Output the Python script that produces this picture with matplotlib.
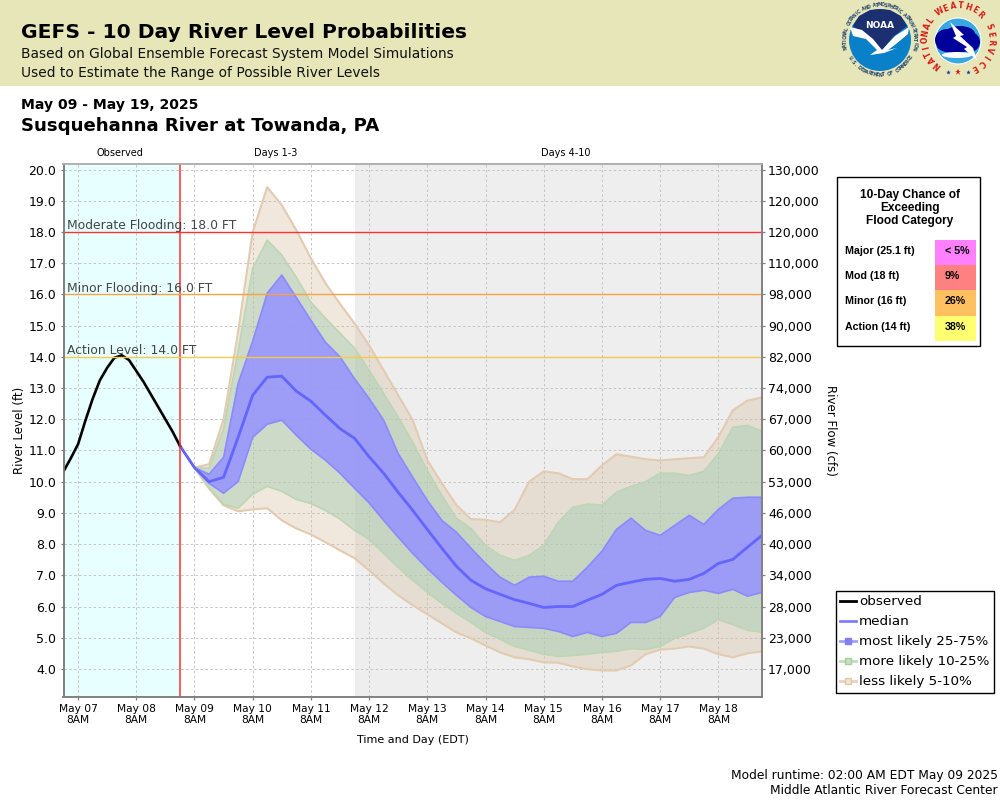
import numpy as np
import pandas as pd
import matplotlib
matplotlib.use("Agg")
import matplotlib.pyplot as plt
from matplotlib.lines import Line2D
from matplotlib.patches import Circle, Polygon, Rectangle, Ellipse

plt.rcParams['font.family'] = ['DejaVu Sans']

# Observed stage, every 3 hours up to the forecast start
obs_times = pd.date_range("2025-05-07 02:00", "2025-05-09 02:00", freq="3h")
observed = [10.33, 10.75, 11.2, 11.95, 12.65, 13.25, 13.65, 13.97, 14.05, 13.9, 13.55,
            13.2, 12.8, 12.4, 12.0, 11.6, 11.15]

# Forecast percentiles, every 6 hours
fc_times = pd.date_range("2025-05-09 02:00", "2025-05-19 02:00", freq="6h")
p95 = [11.15, 10.45, 10.56, 12.0, 14.8, 18.0, 19.44, 18.86, 18.06, 17.16, 16.36, 15.7, 15.07,
       14.37, 13.57, 12.77, 11.97, 10.69, 9.95, 9.25, 8.8, 8.78, 8.7, 9.1, 10.0, 10.33, 10.27,
       10.08, 10.08, 10.52, 10.88, 10.8, 10.72, 10.68, 10.72, 10.75, 10.78, 11.43, 12.29, 12.6, 12.7]
p90 = [11.15, 10.45, 10.43, 11.7, 14.2, 16.84, 17.74, 17.26, 16.55, 15.75, 15.24, 14.76, 14.28,
       13.57, 12.83, 12.07, 11.27, 10.36, 9.56, 8.83, 8.5, 7.96, 7.64, 7.48, 7.64, 7.96, 8.7,
       9.18, 9.28, 9.25, 9.66, 9.85, 10.0, 10.27, 10.27, 10.2, 10.33, 10.9, 11.75, 11.8, 11.62]
p75 = [11.15, 10.45, 10.24, 10.78, 13.15, 14.5, 16.04, 16.62, 15.9, 15.17, 14.47, 14.0, 13.3,
       12.67, 11.97, 10.9, 10.14, 9.4, 8.76, 8.38, 7.87, 7.38, 6.94, 6.68, 6.94, 6.97, 6.81,
       6.81, 7.26, 7.77, 8.47, 8.83, 8.44, 8.28, 8.6, 8.92, 8.63, 9.11, 9.47, 9.5, 9.5]
median = [11.15, 10.45, 10.0, 10.14, 11.42, 12.77, 13.35, 13.38, 12.9, 12.58, 12.13, 11.7, 11.39,
          10.8, 10.27, 9.66, 9.08, 8.47, 7.87, 7.29, 6.84, 6.57, 6.39, 6.22, 6.1, 5.97, 6.0,
          6.0, 6.2, 6.39, 6.68, 6.78, 6.87, 6.9, 6.81, 6.87, 7.06, 7.38, 7.51, 7.9, 8.28]
p25 = [11.15, 10.45, 9.95, 9.63, 10.0, 11.42, 11.84, 11.97, 11.49, 11.04, 10.69, 10.27, 9.79,
       9.32, 8.76, 8.22, 7.7, 7.22, 6.78, 6.36, 5.97, 5.68, 5.52, 5.36, 5.33, 5.3, 5.2,
       5.04, 5.17, 5.04, 5.14, 5.49, 5.49, 5.68, 6.29, 6.45, 6.52, 6.42, 6.55, 6.33, 6.45]
p10 = [11.15, 10.45, 9.82, 9.27, 9.15, 9.6, 9.85, 9.69, 9.43, 9.3, 9.08, 8.8, 8.44,
       8.15, 7.7, 7.25, 6.84, 6.45, 6.1, 5.78, 5.49, 5.17, 4.95, 4.72, 4.6, 4.47, 4.4,
       4.43, 4.47, 4.53, 4.56, 4.65, 4.62, 4.72, 4.98, 5.14, 5.3, 5.58, 5.42, 5.24, 5.17]
p05 = [11.15, 10.45, 9.78, 9.24, 9.05, 9.11, 9.15, 8.76, 8.5, 8.31, 8.06, 7.8, 7.55,
       7.16, 6.74, 6.36, 6.04, 5.75, 5.46, 5.17, 4.98, 4.75, 4.53, 4.37, 4.31, 4.21, 4.2,
       4.08, 3.99, 3.95, 3.95, 4.11, 4.47, 4.62, 4.65, 4.72, 4.65, 4.47, 4.37, 4.5, 4.56]

flood_levels = [18.0, 16.0, 14.0]
flood_labels = ["Moderate Flooding: 18.0 FT", "Minor Flooding: 16.0 FT", "Action Level: 14.0 FT"]
flood_colors = ["#ff3030", "#ffa040", "#f5c94a"]

stage_ticks = [20, 19, 18, 17, 16, 15, 14, 13, 12, 11, 10, 9, 8, 7, 6, 5, 4]
flow_labels = ["130,000", "120,000", "120,000", "110,000", "98,000", "90,000", "82,000", "74,000",
               "67,000", "60,000", "53,000", "46,000", "40,000", "34,000", "28,000", "23,000", "17,000"]

chance_labels = ["Major (25.1 ft)", "Mod (18 ft)", "Minor (16 ft)", "Action (14 ft)"]
chance_values = ["< 5%", "9%", "26%", "38%"]
chance_colors = ["#ff80ff", "#ff8080", "#ffc060", "#ffff70"]

fig = plt.figure(figsize=(10, 8), dpi=100)

# Pixel-coordinate layer for the banner, logos and side table
bg = fig.add_axes([0, 0, 1, 1], zorder=0)
bg.set_xlim(0, 1000)
bg.set_ylim(800, 0)
bg.axis("off")

bg.add_patch(Rectangle((0, 0), 1000, 86, color="#e6e6b8", lw=0))
bg.text(21, 33, "GEFS - 10 Day River Level Probabilities", fontsize=14.6, fontweight="bold", va="center")
bg.text(21, 54, "Based on Global Ensemble Forecast System Model Simulations", fontsize=9.95, va="center", color="#111111")
bg.text(21, 73, "Used to Estimate the Range of Possible River Levels", fontsize=9.95, va="center", color="#111111")
bg.text(21, 105, "May 09 - May 19, 2025", fontsize=10.05, fontweight="bold", va="center")
bg.text(21, 126, "Susquehanna River at Towanda, PA", fontsize=13.07, fontweight="bold", va="center")
bg.text(120, 153.5, "Observed", fontsize=7, ha="center", va="center")
bg.text(276, 153.5, "Days 1-3", fontsize=7, ha="center", va="center")
bg.text(566, 153.5, "Days 4-10", fontsize=7, ha="center", va="center")
bg.text(413, 740, "Time and Day (EDT)", fontsize=8, ha="center", va="center")
bg.text(998, 776, "Model runtime: 02:00 AM EDT May 09 2025", fontsize=8.87, ha="right", va="center")
bg.text(998, 791, "Middle Atlantic River Forecast Center", fontsize=8.87, ha="right", va="center")


def arc_text(cx, cy, r, s, a_start, a_end, size, color, flip=False):
    # places characters one by one along a circle, angles in degrees clockwise from north
    for ch, a in zip(s, np.linspace(a_start, a_end, len(s))):
        t = np.radians(a)
        rot = -a if not flip else 180 - a
        bg.text(cx + r * np.sin(t), cy - r * np.cos(t), ch, fontsize=size, color=color, rotation=rot,
                ha="center", va="center", fontweight="bold", rotation_mode="anchor")


# NOAA logo
bg.add_patch(Circle((880, 40), 31, color="#0a80c8", lw=0))
bg.add_patch(Polygon([(853, 26), (859, 16), (870, 10), (880, 9), (890, 10), (901, 16), (907, 26),
                      (893, 37), (882, 50), (872, 40)], color="#1c2f70", lw=0))
bg.add_patch(Polygon([(850, 27), (862, 30), (873, 39), (882, 50), (895, 36), (909, 27), (908, 34),
                      (896, 44), (888, 50), (897, 48), (884, 53), (870, 55), (877, 50), (866, 39), (853, 36)],
                     color="white", lw=0))
bg.text(880, 25.5, "NOAA", fontsize=6.5, color="white", fontweight="bold", ha="center", va="center")
arc_text(880, 40, 35, "NATIONAL OCEANIC AND ATMOSPHERIC ADMINISTRATION", -103, 103, 3.3, "#2a4a70")
arc_text(880, 40, 35, "U.S. DEPARTMENT OF COMMERCE", 240, 118, 3.3, "#2a4a70", flip=True)

# NWS logo
bg.add_patch(Circle((958, 41), 23, color="#3aa8e0", ec="white", lw=0.8))
for cx, cy, w, h in [(947, 40, 24, 22), (960, 34, 30, 16), (970, 42, 20, 20), (955, 46, 36, 14)]:
    bg.add_patch(Ellipse((cx, cy), w, h, color="#00009a", lw=0))
bg.add_patch(Ellipse((957, 55), 30, 6, color="white", lw=0))
bg.add_patch(Polygon([(950, 22), (964, 35), (960, 36), (973, 48), (977, 60), (964, 49), (967, 47),
                      (953, 38), (956, 36)], color="white", lw=0))
arc_text(958, 39, 33, "NATIONAL", -141, -55, 5.5, "#d81818")
arc_text(958, 39, 33, "WEATHER", -34, 43, 5.5, "#d81818")
arc_text(958, 39, 33, "SERVICE", 67, 150, 5.5, "#d81818")
for sx, col, sz in [(948, "#1c2f90", 3.5), (958, "#d81818", 4.5), (968, "#1c2f90", 3.5)]:
    bg.plot(sx, 71.5, marker="*", color=col, ms=sz, mew=0)

# 10-day chance table
bg.add_patch(Rectangle((836.5, 176.5), 143.5, 169, fc="white", ec="black", lw=1))
bg.text(910, 195, "10-Day Chance of", fontsize=8.6, family="Liberation Sans", fontweight="bold", ha="center", va="center")
bg.text(910, 208, "Exceeding", fontsize=8.6, family="Liberation Sans", fontweight="bold", ha="center", va="center")
bg.text(910, 221, "Flood Category", fontsize=8.6, family="Liberation Sans", fontweight="bold", ha="center", va="center")
for row, (lab, val, col) in enumerate(zip(chance_labels, chance_values, chance_colors)):
    top = 240 + 25.2 * row
    bg.add_patch(Rectangle((935, top), 41, 25.2, color=col, lw=0))
    bg.text(845, top + 11, lab, fontsize=7.7, family="Liberation Sans", fontweight="bold", va="center")
    bg.text(945, top + 11, val, fontsize=7.7, family="Liberation Sans", fontweight="bold", va="center")

# Main chart
ax = fig.add_axes([63.5 / 1000, 1 - 697 / 800, 698.5 / 1000, 533 / 800], zorder=1)
ax.set_xlim(obs_times[0], fc_times[-1])
ax.set_ylim(3.1, 20.18)
ax.axvspan(obs_times[0], obs_times[-1], color="#e8ffff", lw=0, zorder=0.1)
ax.axvspan(pd.Timestamp("2025-05-12 02:00"), fc_times[-1], color="#eeeeee", lw=0, zorder=0.1)
ax.set_axisbelow(True)
ax.grid(True, linestyle=(0, (2.5, 2.5)), color="#c4c4c4", linewidth=0.7)

ax.fill_between(fc_times, p05, p95, facecolor="#d9bf9f", alpha=0.35, lw=0, zorder=2)
ax.plot(fc_times, p95, color="#e2cbb0", lw=1.5, zorder=2.1)
ax.plot(fc_times, p05, color="#e2cbb0", lw=1.5, zorder=2.1)
ax.fill_between(fc_times, p10, p90, facecolor="#a8cdb3", alpha=0.5, lw=0, zorder=2.2)
ax.plot(fc_times, p90, color="#bcd6b4", lw=1.2, zorder=2.3)
ax.plot(fc_times, p10, color="#bcd6b4", lw=1.2, zorder=2.3)
ax.fill_between(fc_times, p25, p75, facecolor="#9591ff", alpha=0.85, lw=0, zorder=2.4)
ax.plot(fc_times, p75, color="#8a8aff", lw=1.2, zorder=2.5)
ax.plot(fc_times, p25, color="#8a8aff", lw=1.2, zorder=2.5)
ax.plot(fc_times, median, color="#6464ff", lw=2, zorder=2.6)
ax.plot(obs_times, observed, color="black", lw=1.9, zorder=2.7)
ax.axvline(obs_times[-1], color="#ff3030", lw=1.1, zorder=3)

for level, label, col in zip(flood_levels, flood_labels, flood_colors):
    ax.axhline(level, color=col, lw=1, zorder=3)
    ax.annotate(label, (0, level), xycoords=("axes fraction", "data"), xytext=(2.5, 2),
                textcoords="offset points", fontsize=8.9, color="#444444", zorder=4)

# one tick per day at 8AM
day_ticks = pd.date_range("2025-05-07 08:00", "2025-05-18 08:00", freq="D")
ax.set_xticks(day_ticks)
ax.set_xticklabels([d.strftime("%b %d") + "\n8AM" for d in day_ticks], fontsize=7.7, linespacing=1.05)
ax.set_yticks(stage_ticks)
ax.set_yticklabels([f"{v:.1f}" for v in stage_ticks], fontsize=9)
ax.tick_params(axis="y", length=2.2, width=0.9, color="#808080", pad=3)
ax.tick_params(axis="x", length=2.2, width=0.9, color="#808080", pad=3)
ax.set_ylabel("River Level (ft)", fontsize=8.5, labelpad=2)

ax2 = ax.twinx()
ax2.set_ylim(ax.get_ylim())
ax2.set_yticks(stage_ticks)
ax2.set_yticklabels(flow_labels, fontsize=9)
ax2.tick_params(axis="y", length=2.2, width=0.9, color="#808080", pad=2.2)
ax2.set_ylabel("River Flow (cfs)", fontsize=8.5, rotation=270, labelpad=12.5)

for a in (ax, ax2):
    for name, sp in a.spines.items():
        sp.set_color("#b0b0b0" if name == "top" else "#808080")
        sp.set_linewidth(1.2)

handles = [
    Line2D([], [], color="black", lw=2),
    Line2D([], [], color="#8080ff", lw=2),
    Line2D([], [], color="#a0a0ff", lw=2, marker="s", ms=5, mfc="#8080f0", mec="#8080f0"),
    Line2D([], [], color="#c0dcb8", lw=2, marker="s", ms=5, mfc="#c8e0c0", mec="#a8cc9c"),
    Line2D([], [], color="#e8d4bc", lw=2, marker="s", ms=5, mfc="#f0e4d4", mec="#e0c8ac"),
]
fig.legend(handles, ["observed", "median", "most likely 25-75%", "more likely 10-25%", "less likely 5-10%"],
           loc="upper left", bbox_to_anchor=(835.5 / 1000, 1 - 591 / 800), borderaxespad=0, fontsize=9.7,
           frameon=True, fancybox=False, edgecolor="black", framealpha=1, handlelength=1.2, handletextpad=0.2,
           labelspacing=0.52, borderpad=0.33)

fig.savefig("out.png", dpi=100)
